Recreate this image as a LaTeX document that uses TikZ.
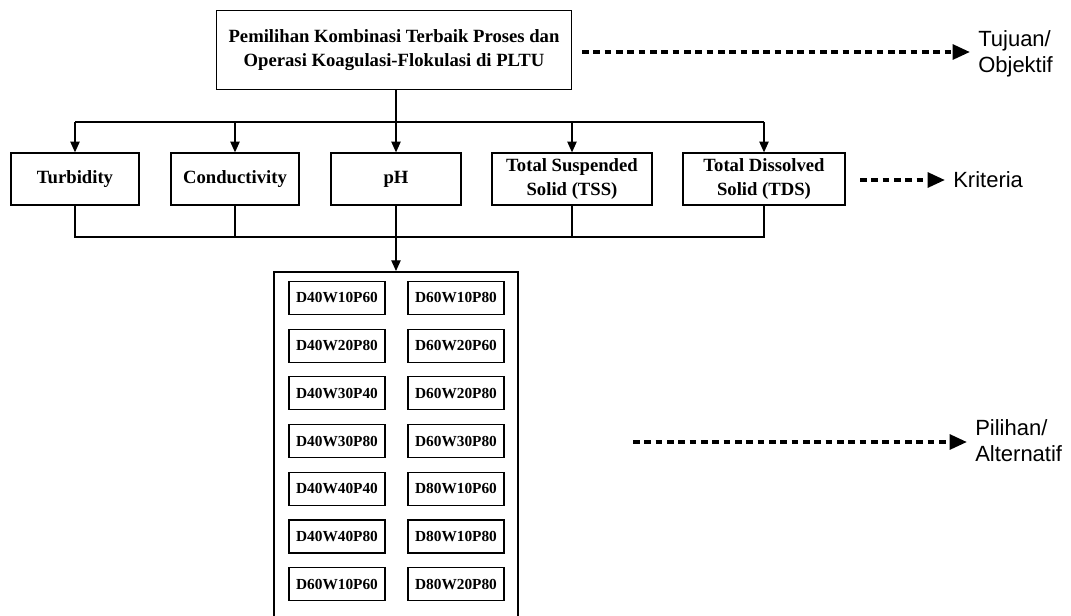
\documentclass[tikz,border=0pt]{standalone}
\usepackage{fontspec}
\setmainfont{Liberation Serif}
\newfontfamily\labelfont{Liberation Sans}
\usetikzlibrary{arrows.meta,positioning}
\tikzset{
	goalbox/.style={draw=black, line width=1pt, minimum width=266pt, minimum height=59pt, align=center, font=\fontsize{14}{17.5}\selectfont\bfseries},
	critbox/.style={draw=black, line width=1pt, minimum height=39pt, align=center, font=\fontsize{14}{17.5}\selectfont\bfseries},
	altbox/.style={draw=black, line width=0.8pt, minimum width=72pt, minimum height=24.75pt, inner sep=1pt, font=\fontsize{11.5}{13}\selectfont\bfseries},
	altframe/.style={draw=black, line width=1.8pt, minimum width=183pt, minimum height=285pt},
	link/.style={draw=black, line width=0.9pt},
	linkarrow/.style={link, -{Triangle[length=8pt,width=7pt]}},
	levelarrow/.style={draw=black, line width=2.8pt, dash pattern=on 5pt off 3.5pt, -{Triangle[length=13pt,width=11pt]}},
	levellabel/.style={anchor=west, inner xsep=6pt, align=left, font=\labelfont\fontsize{16.5}{19.5}\selectfont},
}
\begin{document}
\begin{tikzpicture}[x=0.75pt, y=-0.75pt]
	\clip (0,0) rectangle (1071,615);
	\node[goalbox] (goal) at (394,50) {Pemilihan Kombinasi Terbaik Proses dan\\Operasi Koagulasi-Flokulasi di PLTU};
	\node[critbox, minimum width=96pt] (turb) at (75,179) {Turbidity};
	\node[critbox, minimum width=96pt] (cond) at (235,179) {Conductivity};
	\node[critbox, minimum width=97.5pt] (ph) at (396,179) {pH};
	\node[critbox, minimum width=120pt] (tss) at (572,179) {Total Suspended\\Solid (TSS)};
	\node[critbox, minimum width=121.5pt] (tds) at (764,179) {Total Dissolved\\Solid (TDS)};
	\node[altframe, anchor=north] (alt) at (396,271) {};
	\foreach \a/\b [count=\i] in {D40W10P60/D60W10P80, D40W20P80/D60W20P60, D40W30P40/D60W20P80, D40W30P80/D60W30P80, D40W40P40/D80W10P60, D40W40P80/D80W10P80, D60W10P60/D80W20P80}{
		\node[altbox] (left\i) at ({337},{250.3+47.7*\i}) {\a};
		\node[altbox] (right\i) at ({456},{250.3+47.7*\i}) {\b};
	}
	\coordinate (up) at (0,122);
	\coordinate (down) at (0,237);
	\draw[link] (goal.south -| ph.north) -- (ph.north |- up);
	\draw[link] (turb.north |- up) -- (tds.north |- up);
	\foreach \n in {turb,cond,ph,tss,tds}
		\draw[linkarrow] (\n.north |- up) -- (\n.north);
	\draw[link] (turb.south) -- (turb.south |- down) -- (tds.south |- down) -- (tds.south);
	\foreach \n in {cond,ph,tss}
		\draw[link] (\n.south) -- (\n.south |- down);
	\draw[linkarrow] (ph.south |- down) -- (alt.north);

	\node[levellabel] (tujuan) at (970,54) {Tujuan/\\Objektif};
	\node[levellabel] (kriteria) at (945,180) {Kriteria};
	\node[levellabel] (pilihan) at (967,441) {Pilihan/\\Alternatif};
	\coordinate (tujuanstart) at (582,52);
	\coordinate (kriteriastart) at (860,180);
	\coordinate (pilihanstart) at (633,442);
	\draw[levelarrow] (tujuanstart) -- (tujuanstart -| tujuan.west);
	\draw[levelarrow] (kriteriastart) -- (kriteria.west);
	\draw[levelarrow] (pilihanstart) -- (pilihanstart -| pilihan.west);
\end{tikzpicture}
\end{document}
